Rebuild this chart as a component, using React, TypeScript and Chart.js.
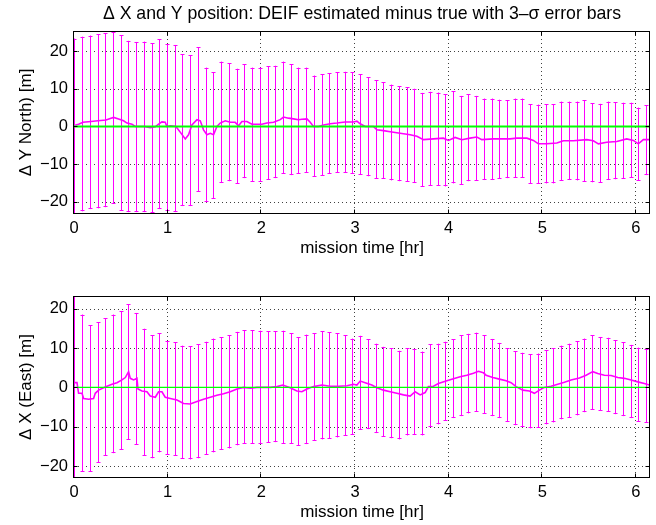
import React, { useEffect, useRef } from 'react';
import { Chart, registerables } from 'chart.js';

Chart.register(...registerables);

const FONT = '"Liberation Sans", Arial, Helvetica, sans-serif';

const TITLE = 'Δ X and Y position: DEIF estimated minus true with 3–σ error bars';
const X_LABEL = 'mission time [hr]';
const TOP_Y_LABEL = 'Δ Y North) [m]';
const BOTTOM_Y_LABEL = 'Δ X (East) [m]';

const X_TICKS = [0, 1, 2, 3, 4, 5, 6];
const Y_TICKS = [-20, -10, 0, 10, 20];
const X_MIN = 0;
const X_MAX = 6.15;
const TOP_Y_MIN = -23.2;
const TOP_Y_MAX = 25.3;
const BOTTOM_Y_MIN = -23.0;
const BOTTOM_Y_MAX = 23.2;

// error-bar sample times [hr]
const barTimes = [
  0.014, 0.097, 0.179, 0.262, 0.344, 0.427, 0.509, 0.592, 0.674, 0.757,
  0.839, 0.922, 1.004, 1.087, 1.169, 1.252, 1.334, 1.417, 1.499, 1.582,
  1.664, 1.747, 1.829, 1.912, 1.994, 2.077, 2.159, 2.242, 2.324, 2.407,
  2.489, 2.572, 2.654, 2.737, 2.819, 2.902, 2.984, 3.067, 3.149, 3.232,
  3.314, 3.397, 3.479, 3.562, 3.644, 3.727, 3.809, 3.892, 3.974, 4.057,
  4.139, 4.222, 4.304, 4.387, 4.469, 4.552, 4.634, 4.717, 4.799, 4.882,
  4.964, 5.047, 5.129, 5.212, 5.294, 5.377, 5.459, 5.542, 5.624, 5.707,
  5.789, 5.872, 5.954, 6.037, 6.119,
];

// North (ΔY) error bar ends
const northUpper = [
  23.3, 23.8, 24.1, 24.4, 24.7, 25.1, 24.2, 22.7, 22.4, 22.5,
  22.0, 23.1, 21.8, 21.6, 19.1, 18.9, 21.0, 15.6, 14.4, 17.2,
  16.7, 15.3, 16.5, 15.6, 15.6, 15.9, 16.1, 17.2, 16.5, 15.6,
  15.6, 13.5, 13.8, 14.1, 14.4, 14.5, 14.4, 13.8, 13.0, 12.2,
  11.7, 11.1, 10.7, 10.4, 10.0, 8.9, 9.2, 9.0, 8.6, 9.3,
  8.1, 8.5, 8.1, 7.4, 7.4, 7.1, 7.0, 7.4, 7.4, 5.9,
  5.8, 5.9, 5.9, 6.6, 6.6, 6.6, 6.9, 6.2, 6.0, 6.6,
  6.4, 6.3, 6.3, 5.0, 5.6,
];
const northLower = [
  -23.5, -22.5, -21.9, -21.7, -21.4, -20.5, -22.3, -22.7, -22.7, -22.7,
  -22.9, -21.9, -22.3, -22.7, -21.1, -21.1, -17.3, -20.1, -19.2, -15.0,
  -14.5, -15.2, -13.7, -14.6, -14.7, -14.1, -13.7, -12.6, -12.9, -12.5,
  -12.3, -13.4, -13.0, -12.6, -12.3, -12.3, -12.5, -12.8, -13.2, -13.9,
  -13.9, -14.3, -14.5, -14.7, -15.0, -16.0, -15.7, -15.7, -15.9, -15.1,
  -15.4, -14.5, -14.4, -14.2, -14.2, -13.9, -13.7, -13.6, -13.6, -15.2,
  -15.2, -15.1, -15.1, -14.4, -14.2, -14.3, -14.6, -14.8, -14.9, -14.2,
  -14.0, -13.8, -13.6, -14.4, -12.9,
];

// East (ΔX) error bar ends
const eastUpper = [
  24.0, 18.5, 15.8, 16.6, 17.6, 18.5, 19.4, 21.1, 18.9, 14.9,
  13.2, 13.8, 11.8, 11.5, 10.6, 10.5, 10.9, 11.6, 12.4, 12.7,
  13.3, 14.1, 14.5, 14.5, 14.4, 14.3, 14.3, 14.4, 13.7, 12.8,
  13.4, 13.8, 14.3, 14.0, 13.7, 13.2, 12.4, 13.1, 12.2, 11.1,
  10.3, 9.9, 9.3, 10.0, 9.8, 9.1, 10.9, 11.1, 11.6, 12.2,
  13.2, 13.6, 13.9, 13.2, 12.3, 11.3, 10.0, 9.2, 8.8, 8.4,
  8.6, 9.4, 9.9, 10.6, 11.1, 11.7, 12.4, 13.2, 12.8, 12.6,
  12.0, 11.5, 10.8, 10.1, 9.7,
];
const eastLower = [
  -24.0, -21.4, -21.4, -19.1, -17.3, -16.7, -15.9, -13.3, -14.6, -17.4,
  -18.0, -16.5, -17.1, -17.3, -18.1, -18.3, -18.0, -17.1, -16.5, -15.9,
  -15.5, -14.7, -14.3, -14.3, -14.3, -14.0, -13.9, -14.3, -14.3, -14.8,
  -14.4, -13.6, -13.2, -13.1, -12.7, -12.3, -12.1, -10.8, -10.6, -11.6,
  -12.5, -12.9, -13.2, -12.2, -12.1, -12.2, -10.0, -9.4, -8.5, -7.8,
  -7.3, -6.6, -6.2, -6.7, -7.3, -7.8, -8.8, -9.6, -10.0, -10.4,
  -10.2, -9.4, -8.9, -8.1, -7.7, -7.1, -6.3, -5.7, -6.0, -6.2,
  -6.8, -7.3, -7.8, -8.7, -9.0,
];

// estimated-minus-true traces
const northTraceTime = [
  0.014, 0.049, 0.096, 0.181, 0.256, 0.342, 0.387, 0.423, 0.476, 0.529,
  0.566, 0.619, 0.654, 0.708, 0.754, 0.814, 0.868, 0.903, 0.939, 0.974,
  0.992, 1.028, 1.088, 1.134, 1.188, 1.223, 1.259, 1.313, 1.348, 1.383,
  1.419, 1.455, 1.490, 1.526, 1.561, 1.615, 1.668, 1.721, 1.757, 1.793,
  1.846, 1.900, 1.953, 2.006, 2.060, 2.131, 2.202, 2.237, 2.290, 2.344,
  2.397, 2.433, 2.487, 2.522, 2.557, 2.610, 2.664, 2.735, 2.807, 2.895,
  2.984, 3.020, 3.056, 3.109, 3.197, 3.234, 3.304, 3.376, 3.482, 3.589,
  3.661, 3.731, 3.838, 3.944, 3.998, 4.069, 4.141, 4.229, 4.301, 4.354,
  4.478, 4.550, 4.656, 4.728, 4.835, 4.905, 4.958, 5.048, 5.155, 5.225,
  5.332, 5.475, 5.545, 5.599, 5.688, 5.795, 5.902, 5.972, 6.026, 6.079,
  6.143,
];
const northTraceValue = [
  0.4, 0.6, 1.1, 1.3, 1.5, 1.7, 2.1, 2.4, 2.0, 1.5,
  0.9, 0.6, 0.0, 0.0, 0.0, -0.3, -0.1, 0.6, 1.2, 1.1,
  0.0, 0.2, 0.0, -1.5, -3.3, -2.2, 0.4, 1.8, 1.5, -0.9,
  -2.2, -1.8, -2.2, 0.0, 0.9, 1.5, 1.1, 1.1, 0.2, 1.3,
  1.3, 0.6, 0.6, 0.6, 0.9, 1.1, 1.8, 2.5, 2.2, 2.0,
  1.8, 1.9, 2.0, 1.1, 0.0, 0.0, 0.4, 0.7, 0.9, 1.2,
  1.2, 1.4, 0.7, 0.0, 0.0, -0.9, -1.1, -1.4, -1.8, -2.2,
  -2.6, -3.5, -3.3, -3.1, -3.7, -2.9, -3.5, -3.1, -2.8, -3.5,
  -3.3, -3.3, -3.3, -3.1, -3.1, -3.7, -4.6, -4.6, -4.4, -3.8,
  -3.8, -3.5, -3.8, -4.6, -4.2, -4.0, -3.3, -3.7, -4.6, -3.5,
  -3.5,
];

const eastTraceTime = [
  0.006, 0.032, 0.049, 0.085, 0.103, 0.156, 0.209, 0.227, 0.263, 0.316,
  0.352, 0.406, 0.459, 0.512, 0.548, 0.583, 0.601, 0.637, 0.672, 0.683,
  0.726, 0.779, 0.814, 0.868, 0.903, 0.939, 0.974, 1.028, 1.099, 1.170,
  1.241, 1.313, 1.383, 1.455, 1.526, 1.597, 1.668, 1.740, 1.810, 1.882,
  1.953, 2.023, 2.095, 2.166, 2.230, 2.308, 2.380, 2.433, 2.487, 2.557,
  2.647, 2.735, 2.824, 2.914, 2.984, 3.020, 3.056, 3.109, 3.180, 3.234,
  3.304, 3.376, 3.447, 3.518, 3.589, 3.642, 3.696, 3.749, 3.784, 3.838,
  3.891, 3.981, 4.051, 4.123, 4.194, 4.265, 4.318, 4.371, 4.400, 4.472,
  4.542, 4.614, 4.667, 4.720, 4.792, 4.862, 4.916, 4.969, 5.022, 5.094,
  5.165, 5.236, 5.307, 5.396, 5.468, 5.539, 5.592, 5.663, 5.734, 5.806,
  5.876, 5.948, 6.019, 6.090, 6.143,
];
const eastTraceValue = [
  1.2, 1.2, -1.5, -1.5, -2.8, -3.0, -2.8, -1.5, -0.7, -0.1,
  0.3, 0.8, 1.2, 1.9, 2.5, 4.0, 2.3, 1.9, 2.3, -0.4,
  -0.9, -1.1, -2.2, -2.5, -1.1, -1.1, -2.5, -2.8, -3.2, -4.1,
  -4.2, -3.6, -3.0, -2.5, -2.0, -1.6, -1.1, -0.4, 0.0, -0.2,
  0.0, 0.0, 0.0, 0.2, 0.6, -0.1, -0.9, -1.1, -0.4, 0.2,
  0.6, 0.3, 0.3, 0.4, 0.8, 0.6, 1.6, 1.2, 0.6, -0.1,
  -0.7, -1.1, -1.5, -1.9, -2.2, -1.1, -1.9, -1.3, 0.2, 0.3,
  1.0, 1.7, 2.2, 2.7, 3.1, 3.6, 4.1, 3.7, 3.1, 2.5,
  2.1, 1.7, 1.2, 0.2, -0.7, -0.9, -1.5, -0.7, 0.0, 0.3,
  0.8, 1.3, 1.9, 2.4, 3.1, 4.0, 3.5, 3.1, 3.0, 2.5,
  2.3, 1.9, 1.4, 1.0, 0.6,
];

const zeroLineTime = [0, 6.15];
const zeroLineValue = [0, 0];

const fmtTick = (v: any) => String(v).replace('-', '\u2212');

function matlabAxesPlugin(times: number[], upper: number[], lower: number[]) {
  return {
    id: 'matlabAxes',
    beforeDatasetsDraw(chart: any) {
      const { ctx, chartArea: a, scales } = chart;
      const x = scales.x;
      const y = scales.y;
      // dotted grid
      ctx.save();
      ctx.strokeStyle = 'rgba(0,0,0,0.75)';
      ctx.lineWidth = 1;
      ctx.setLineDash([1, 3]);
      for (const v of X_TICKS) {
        const px = Math.round(x.getPixelForValue(v)) - 0.5;
        if (px <= a.left + 1 || px >= a.right - 1) continue;
        ctx.beginPath();
        ctx.moveTo(px, a.top);
        ctx.lineTo(px, a.bottom);
        ctx.stroke();
      }
      for (const v of Y_TICKS) {
        const py = Math.round(y.getPixelForValue(v)) + 0.5;
        if (py <= a.top + 1 || py >= a.bottom - 1) continue;
        ctx.beginPath();
        ctx.moveTo(a.left, py);
        ctx.lineTo(a.right, py);
        ctx.stroke();
      }
      ctx.restore();

      // error bars
      ctx.save();
      ctx.beginPath();
      ctx.rect(a.left - 1, a.top, a.right - a.left + 1, a.bottom - a.top);
      ctx.clip();
      ctx.strokeStyle = '#ff00ff';
      ctx.lineWidth = 1;
      for (let i = 0; i < times.length; i++) {
        const px = Math.round(x.getPixelForValue(times[i])) - 0.5;
        const yt = y.getPixelForValue(upper[i]);
        const yb = y.getPixelForValue(lower[i]);
        ctx.beginPath();
        ctx.moveTo(px, yt);
        ctx.lineTo(px, yb);
        ctx.moveTo(px - 2, Math.round(yt) + 0.5);
        ctx.lineTo(px + 2, Math.round(yt) + 0.5);
        ctx.moveTo(px - 2, Math.round(yb) - 0.5);
        ctx.lineTo(px + 2, Math.round(yb) - 0.5);
        ctx.stroke();
      }
      ctx.restore();
    },
    afterDatasetsDraw(chart: any) {
      const { ctx, chartArea: a, scales } = chart;
      const x = scales.x;
      const y = scales.y;
      ctx.save();
      ctx.strokeStyle = '#000';
      ctx.lineWidth = 1;
      ctx.setLineDash([]);
      const L = a.left - 0.5;
      const R = a.right - 0.5;
      const T = a.top + 0.5;
      const B = a.bottom - 0.5;
      ctx.strokeRect(L, T, R - L, B - T);
      const tl = 4;
      ctx.beginPath();
      for (const v of X_TICKS) {
        const px = Math.round(x.getPixelForValue(v)) - 0.5;
        if (px <= L + 1 || px >= R - 1) continue;
        ctx.moveTo(px, B);
        ctx.lineTo(px, B - tl);
        ctx.moveTo(px, T);
        ctx.lineTo(px, T + tl);
      }
      for (const v of Y_TICKS) {
        const py = Math.round(y.getPixelForValue(v)) + 0.5;
        if (py <= T + 1 || py >= B - 1) continue;
        ctx.moveTo(L, py);
        ctx.lineTo(L + tl, py);
        ctx.moveTo(R, py);
        ctx.lineTo(R - tl, py);
      }
      ctx.stroke();
      ctx.restore();
    },
  };
}

interface PanelProps {
  height: number;
  title?: string;
  yLabel: string;
  yMin: number;
  yMax: number;
  padTop: number;
  xAxisHeight: number;
  xTitleBottom: number;
  zeroWidth: number;
  traceTime: number[];
  traceValue: number[];
  upper: number[];
  lower: number[];
}

function Panel(p: PanelProps) {
  const ref = useRef<HTMLCanvasElement | null>(null);
  useEffect(() => {
    if (!ref.current) return;
    const tickFont = { family: FONT, size: 16.5, lineHeight: 1.2 };
    const labelFont = { family: FONT, size: 17, lineHeight: 1.2 };
    const chart = new Chart(ref.current, {
      type: 'line',
      data: {
        datasets: [
          {
            label: 'zero',
            data: zeroLineTime.map((t, i) => ({ x: t, y: zeroLineValue[i] })),
            borderColor: '#00ff00',
            borderWidth: p.zeroWidth,
            pointRadius: 0,
            tension: 0,
          },
          {
            label: 'estimated minus true',
            data: p.traceTime.map((t, i) => ({ x: t, y: p.traceValue[i] })),
            borderColor: '#ff00ff',
            borderWidth: 1.6,
            pointRadius: 0,
            tension: 0,
          },
        ],
      },
      options: {
        animation: false,
        responsive: false,
        maintainAspectRatio: false,
        layout: { padding: { left: 0, right: 6, top: p.padTop, bottom: 0 } },
        plugins: {
          legend: { display: false },
          tooltip: { enabled: false },
          title: p.title
            ? {
                display: true,
                fullSize: false,
                text: p.title,
                color: '#000',
                font: { family: FONT, size: 17.7, weight: 'normal', lineHeight: 1.2 },
                padding: { top: 3, bottom: 6.76 },
              }
            : { display: false },
        },
        scales: {
          x: {
            type: 'linear',
            min: X_MIN,
            max: X_MAX,
            afterBuildTicks: (s: any) => {
              s.ticks = X_TICKS.map((v) => ({ value: v }));
            },
            afterFit: (s: any) => {
              s.height = p.xAxisHeight;
            },
            grid: { display: false, drawTicks: false },
            border: { display: false },
            ticks: {
              padding: 5,
              color: '#000',
              font: tickFont,
              maxRotation: 0,
              autoSkip: false,
              callback: fmtTick,
            },
            title: {
              display: true,
              text: X_LABEL,
              color: '#000',
              font: labelFont,
              padding: { top: 0, bottom: p.xTitleBottom },
            },
          },
          y: {
            type: 'linear',
            min: p.yMin,
            max: p.yMax,
            afterBuildTicks: (s: any) => {
              s.ticks = Y_TICKS.map((v) => ({ value: v }));
            },
            afterFit: (s: any) => {
              s.width = 74;
            },
            grid: { display: false, drawTicks: false },
            border: { display: false },
            ticks: {
              padding: 6,
              color: '#000',
              font: tickFont,
              autoSkip: false,
              callback: fmtTick,
            },
            title: {
              display: true,
              text: p.yLabel,
              color: '#000',
              font: labelFont,
              padding: { top: 15.8, bottom: 0 },
            },
          },
        },
      } as any,
      plugins: [matlabAxesPlugin(barTimes, p.upper, p.lower)],
    });
    return () => chart.destroy();
  }, []);
  return <canvas ref={ref} width={656} height={p.height} style={{ display: 'block' }} />;
}

export default function App() {
  return (
    <div style={{ position: 'fixed', left: 0, top: 0, width: 656, height: 525, background: '#fff' }}>
      <Panel
        height={262}
        title={TITLE}
        yLabel={TOP_Y_LABEL}
        yMin={TOP_Y_MIN}
        yMax={TOP_Y_MAX}
        padTop={0}
        xAxisHeight={48}
        xTitleBottom={3.8}
        zeroWidth={2}
        traceTime={northTraceTime}
        traceValue={northTraceValue}
        upper={northUpper}
        lower={northLower}
      />
      <Panel
        height={263}
        yLabel={BOTTOM_Y_LABEL}
        yMin={BOTTOM_Y_MIN}
        yMax={BOTTOM_Y_MAX}
        padTop={34}
        xAxisHeight={47}
        xTitleBottom={2.8}
        zeroWidth={1.4}
        traceTime={eastTraceTime}
        traceValue={eastTraceValue}
        upper={eastUpper}
        lower={eastLower}
      />
    </div>
  );
}
